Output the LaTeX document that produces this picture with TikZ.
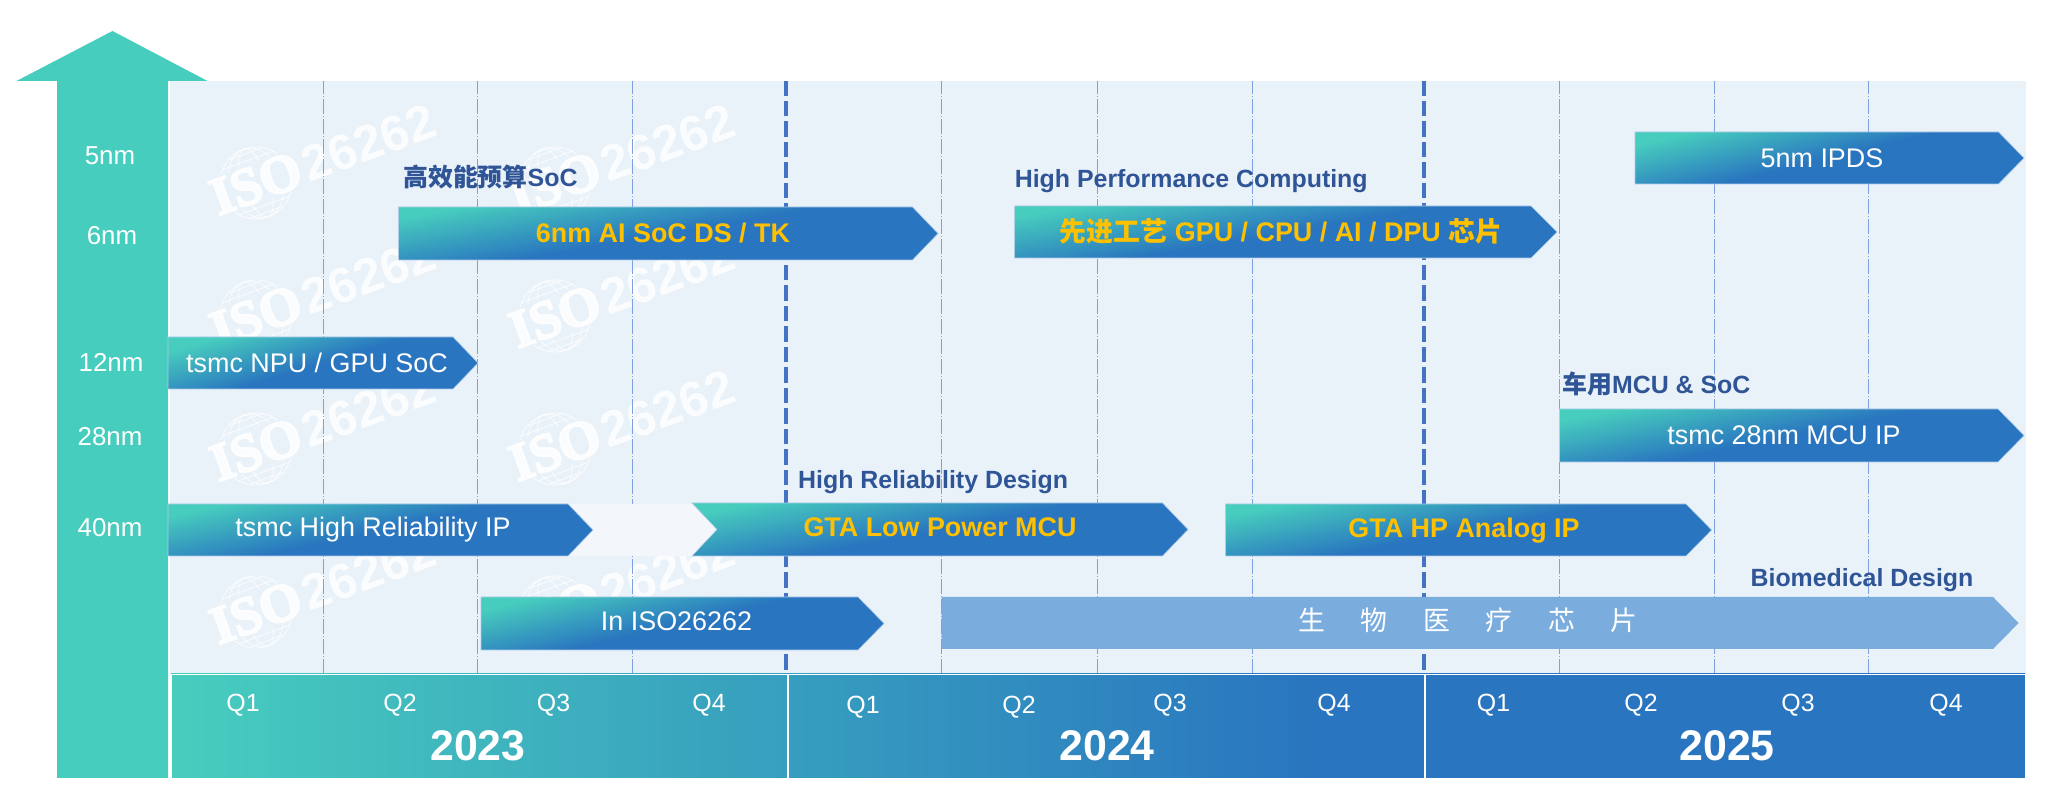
\documentclass[tikz,border=0pt]{standalone}
\usepackage{fontspec}
\setmainfont{Liberation Sans}
\newfontfamily\cjk{Noto Sans CJK SC}
\newfontfamily\isoserif[BoldFeatures={FakeBold=4}]{Liberation Serif}
\usetikzlibrary{positioning}

\definecolor{barteal}{HTML}{47CDBE}
\definecolor{barblue}{HTML}{2975BF}
\definecolor{panelbg}{HTML}{E9F1F9}
\definecolor{fadeband}{HTML}{F3F7FC}
\definecolor{biobar}{HTML}{7AACDD}
\definecolor{labelblue}{HTML}{2F5597}
\definecolor{marker}{HTML}{FFC000}
\definecolor{yearline}{HTML}{4472C4}
\definecolor{quarterline}{HTML}{7E9FE0}
\pgfdeclareverticalshading{barfade}{100bp}{color(0bp)=(barblue); color(25bp)=(barblue); color(50bp)=(barblue); color(75bp)=(barteal); color(100bp)=(barteal)}
\pgfdeclarehorizontalshading{stripfade}{100bp}{color(0bp)=(barteal); color(25bp)=(barteal); color(56bp)=(barblue); color(100bp)=(barblue)}

\tikzset{
  barfill/.style={shade,shading=barfade,draw=panelbg!70!barblue,line width=.6bp},
  bartext/.style={text=white,inner sep=0pt,text height=19bp,text depth=0pt,font=\fontsize{27}{27}\selectfont},
  boldtext/.style={bartext,text=marker,font=\fontsize{27}{27}\selectfont\bfseries},
  tagtext/.style={anchor=west,text=labelblue,inner sep=0pt,text height=18bp,text depth=0pt,font=\fontsize{25}{25}\selectfont\bfseries},
  nmtext/.style={text=white,inner sep=0pt,text height=19bp,text depth=0pt,font=\fontsize{26}{26}\selectfont},
  qtext/.style={text=white,inner sep=0pt,text height=18bp,text depth=0pt,font=\fontsize{25}{25}\selectfont},
  yeartext/.style={text=white,inner sep=0pt,text height=31bp,text depth=0pt,font=\fontsize{43}{43}\selectfont\bfseries},
  marktext/.style={text=white,opacity=.85,inner sep=0pt,text height=36bp,text depth=0pt,font=\fontsize{50}{50}\selectfont\bfseries},
  globeline/.style={draw=white,opacity=.85,line width=.8bp},
}
\newcommand{\timebar}[5]{\pgfmathsetmacro\barangle{atan(95/(#3-#1))}
  \path[barfill,shading angle=\barangle] (#1bp,#4bp) -- (#2bp,#4bp) -- (#3bp,{(#4+#5)/2*1bp}) -- (#2bp,#5bp) -- (#1bp,#5bp) -- cycle;}

\begin{document}
\begin{tikzpicture}
\path[use as bounding box,fill=white] (0bp,0bp) rectangle (2048bp,807bp);
%% panel and axis
\fill[panelbg] (170bp,133bp) rectangle (2026bp,726bp);
\fill[barteal] (112.5bp,776bp) -- (207.5bp,726bp) -- (168bp,726bp) -- (168bp,29bp) -- (57bp,29bp) -- (57bp,726bp) -- (16.5bp,726bp) -- cycle;
%% watermarks
\foreach \wmx/\wmy [count=\wmi] in {256/624,256/491,256/358,256/195,555/624,555/491,555/358,555/195} {
  \begin{scope}[shift={(\wmx bp,\wmy bp)},rotate=20]
    \draw[globeline] (0bp,0bp) circle (36bp);
    \draw[globeline] (0bp,0bp) ellipse (13bp and 36bp);
    \draw[globeline] (0bp,0bp) ellipse (26bp and 36bp);
    \foreach \py/\pw in {24/27,31/18,-24/27,-31/18}
      \draw[globeline] (-\pw bp,\py bp) -- (\pw bp,\py bp);
    \fill[panelbg] (-42bp,-20bp) rectangle (42bp,20bp);
    \node (mark\wmi) at (0bp,0bp) [marktext,transform shape,font=\fontsize{54}{54}\selectfont\bfseries] {\isoserif\bfseries ISO};
    \node (digits\wmi) [marktext,transform shape,right=4bp of mark\wmi] {26262};
  \end{scope}
}
%% quarter and year lines
\foreach \qx in {323.7,477.7,632,941.5,1097,1252,1559.6,1714,1868}
  \draw[quarterline,line width=.8bp,dash pattern=on 15bp off 2bp on 1bp off 2bp] (\qx bp,133bp) -- (\qx bp,726bp);
\foreach \yx in {786,1424}
  \draw[yearline,line width=3.6bp,dash pattern=on 15.5bp off 5bp] (\yx bp,137bp) -- (\yx bp,726bp);
%% time strip
\path[shade,shading=stripfade,draw=white,line width=.8bp] (171bp,29bp) rectangle (2025bp,133bp);
\draw[white,line width=2.2bp] (788bp,29bp) -- (788bp,133bp);
\draw[white,line width=2.2bp] (1425bp,29bp) -- (1425bp,133bp);
%% bars
\fill[fadeband] (568bp,303bp) -- (692bp,303bp) -- (717bp,277bp) -- (692bp,251bp) -- (568bp,251bp) -- (593bp,277bp) -- cycle;
\timebar{398.5}{912.5}{938}{600}{547}
\timebar{1014.6}{1531}{1557}{601}{549}
\timebar{1635}{1998.5}{2024}{675}{623}
\timebar{168}{453}{478}{470}{418}
\timebar{1559.5}{1998}{2024}{398}{345}
\timebar{168}{568}{593}{303}{251}
\path[barfill,shading angle=11] (692bp,304bp) -- (1162.5bp,304bp) -- (1188bp,277.5bp) -- (1162.5bp,251bp) -- (692bp,251bp) -- (717bp,277.5bp) -- cycle;
\timebar{1225.5}{1686}{1711.6}{303}{251}
\timebar{481}{858}{884}{210}{157}
\fill[biobar] (941.5bp,210bp) -- (1993bp,210bp) -- (2018.6bp,184bp) -- (1993bp,158bp) -- (941.5bp,158bp) -- cycle;
%% texts on the axis
\node (nmFive) at (110bp,652bp) [nmtext] {5nm};
\node (nmSix) at (112bp,572bp) [nmtext] {6nm};
\node (nmTwelve) at (111bp,445bp) [nmtext] {12nm};
\node (nmTwentyEight) at (110bp,371bp) [nmtext] {28nm};
\node (nmForty) at (110bp,280bp) [nmtext] {40nm};
%% texts on the bars
\node (aiSoc) at (663bp,574bp) [boldtext] {6nm AI SoC DS / TK};
\node (hpcChip) at (1281bp,575bp) [boldtext] {{\cjk\bfseries 先进工艺} GPU / CPU / AI / DPU {\cjk\bfseries 芯片}};
\node (ipds) at (1822bp,649bp) [bartext] {5nm IPDS};
\node (npuSoc) at (317bp,444bp) [bartext] {tsmc NPU / GPU SoC};
\node (mcuIp) at (1784bp,371.5bp) [bartext] {tsmc 28nm MCU IP};
\node (relIp) at (373bp,280bp) [bartext] {tsmc High Reliability IP};
\node (lowPower) at (940bp,280bp) [boldtext] {GTA Low Power MCU};
\node (hpAnalog) at (1464bp,279bp) [boldtext] {GTA HP Analog IP};
\node (inIso) at (676.5bp,186bp) [bartext] {In ISO26262};
\node (bioChip) at (1468bp,186bp) [bartext] {\cjk 生\hspace{35.5bp}物\hspace{35.5bp}医\hspace{35.5bp}疗\hspace{35.5bp}芯\hspace{35.5bp}片};
%% texts above the bars
\node (tagBudget) at (403bp,629bp) [tagtext] {{\cjk\bfseries 高效能预算}SoC};
\node (tagHpc) at (1014.6bp,628bp) [tagtext] {High Performance Computing};
\node (tagRel) at (798bp,327bp) [tagtext] {High Reliability Design};
\node (tagCar) at (1562bp,422bp) [tagtext] {{\cjk\bfseries 车用}MCU \& SoC};
\node (tagBio) at (1862bp,229bp) [tagtext,anchor=center] {Biomedical Design};
%% strip texts
\node (q1a) at (243bp,104bp) [qtext] {Q1};
\node (q2a) at (400bp,104bp) [qtext] {Q2};
\node (q3a) at (553.5bp,104bp) [qtext] {Q3};
\node (q4a) at (709bp,104bp) [qtext] {Q4};
\node (q1b) at (863bp,102bp) [qtext] {Q1};
\node (q2b) at (1019bp,102bp) [qtext] {Q2};
\node (q3b) at (1170bp,104bp) [qtext] {Q3};
\node (q4b) at (1334bp,104bp) [qtext] {Q4};
\node (q1c) at (1493.5bp,104bp) [qtext] {Q1};
\node (q2c) at (1641bp,104bp) [qtext] {Q2};
\node (q3c) at (1798bp,104bp) [qtext] {Q3};
\node (q4c) at (1946bp,104bp) [qtext] {Q4};
\node (yearA) at (478bp,62bp) [yeartext] {2023};
\node (yearB) at (1107bp,62bp) [yeartext] {2024};
\node (yearC) at (1727bp,62bp) [yeartext] {2025};
\end{tikzpicture}
\end{document}
